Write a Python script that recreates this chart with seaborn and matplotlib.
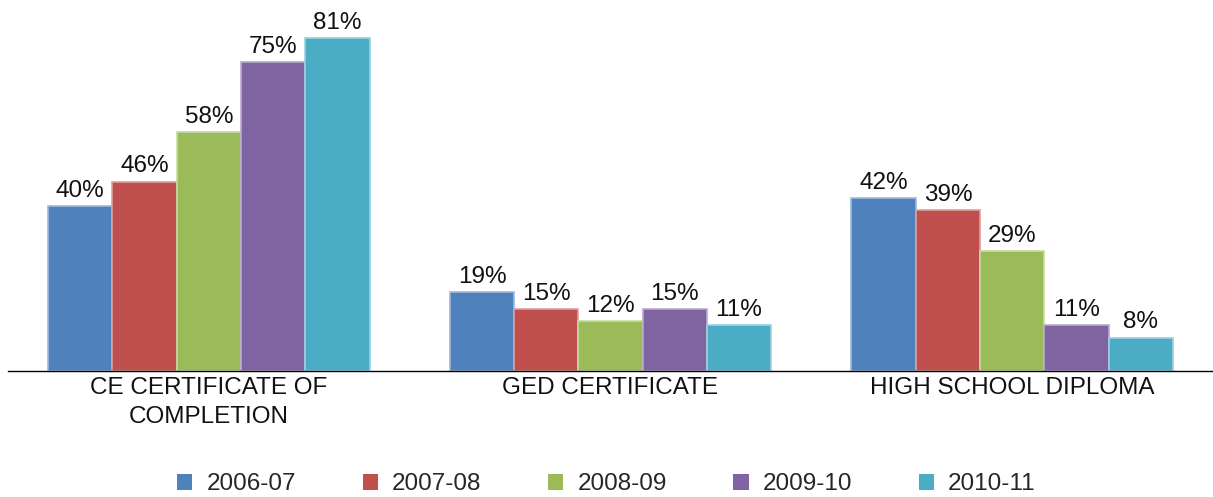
import matplotlib
matplotlib.use("Agg")
import matplotlib.pyplot as plt
import matplotlib.colors as mcolors
from matplotlib.patches import Patch
import seaborn as sns
import pandas as pd
import numpy as np

categories = ["CE CERTIFICATE OF\nCOMPLETION", "GED CERTIFICATE", "HIGH SCHOOL DIPLOMA"]
years = ["2006-07", "2007-08", "2008-09", "2009-10", "2010-11"]
v_2006_07 = [40, 19, 42]
v_2007_08 = [46, 15, 39]
v_2008_09 = [58, 12, 29]
v_2009_10 = [75, 15, 11]
v_2010_11 = [81, 11, 8]
colors = ["#4F81BD", "#C0504D", "#9BBB59", "#8064A2", "#4BACC6"]

series = [v_2006_07, v_2007_08, v_2008_09, v_2009_10, v_2010_11]
rows = []
for y, vals in zip(years, series):
    for c, v in zip(categories, vals):
        rows.append({"category": c, "year": y, "value": v})
df = pd.DataFrame(rows)

sns.set_theme(style="white")
plt.rcParams['font.family'] = ['Liberation Sans', 'DejaVu Sans']

FS = 17.5
fig = plt.figure(figsize=(12.13, 4.97), dpi=100)
ax = fig.add_axes([8 / 1213, 126.5 / 497, 1 - 8 / 1213, 1 - 126.5 / 497])

sns.barplot(data=df, x="category", y="value", hue="year", palette=colors,
            order=categories, hue_order=years, width=0.8, ax=ax,
            saturation=1, legend=False, linewidth=1)

for i, cont in enumerate(ax.containers):
    base = np.array(mcolors.to_rgb(colors[i]))
    edge = base + (1 - base) * 0.45
    for p in cont.patches:
        p.set_edgecolor(edge)
        p.set_linewidth(1.2)
    ax.bar_label(cont, labels=[f"{int(v)}%" for v in cont.datavalues],
                 padding=3, fontsize=FS, color="#111111")

ax.set_ylim(0, 90.2)
ax.set_xlim(-0.5, 2.5)
ax.set_xlabel("")
ax.set_ylabel("")
ax.set_yticks([])
for s in ["top", "right", "left"]:
    ax.spines[s].set_visible(False)
ax.spines["bottom"].set_color("#000000")
ax.spines["bottom"].set_linewidth(1.0)
ax.tick_params(axis="x", length=0, pad=5, labelsize=FS, labelcolor="#111111")
for t in ax.get_xticklabels():
    t.set_linespacing(1.4)

handles = [Patch(facecolor=c, edgecolor="none") for c in colors]
fig.legend(handles, years, loc="center", bbox_to_anchor=(0.5, 12.5 / 497), ncol=5,
           frameon=False, fontsize=FS, handlelength=0.62, handleheight=0.6,
           handletextpad=0.58, columnspacing=2.75, borderpad=0, borderaxespad=0)

fig.savefig("out.png", dpi=100)
